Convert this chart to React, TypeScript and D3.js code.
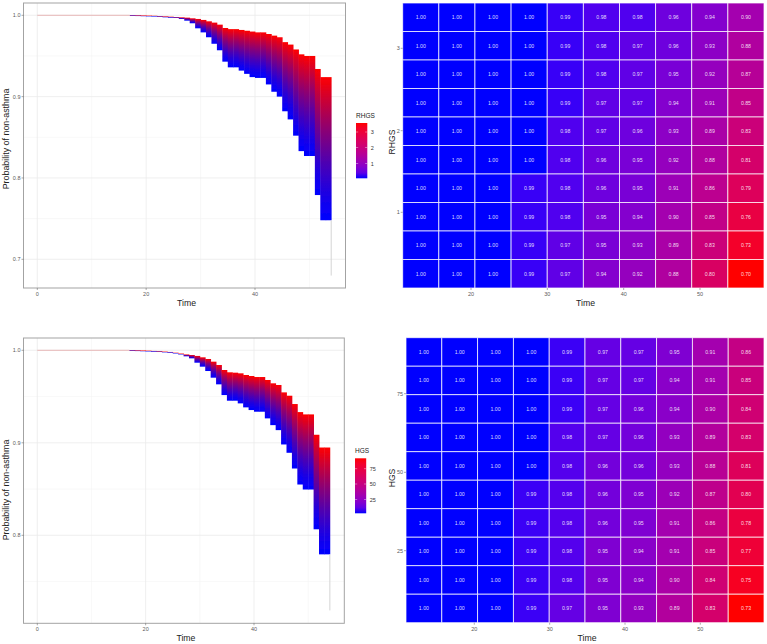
import React from "react";
import * as d3 from "d3";

const stepTimes = [17,18,19,20,21,22,23,24,25,26,27,28,29,30,31,32,33,34,35,36,37,38,39,40,41,42,43,44,45,46,47,48,49,50,51,52,53];
const rhgsUpper = [1,.9998,.9996,.9994,.9992,.999,.9987,.9983,.9978,.9975,.9971,.9963,.9955,.9943,.9926,.991,.9885,.9844,.983,.983,.982,.981,.98,.979,.979,.977,.975,.973,.967,.964,.958,.952,.95,.95,.934,.924,.924];
const rhgsLower = [1,.9996,.9992,.999,.9985,.998,.9975,.997,.9967,.9955,.9934,.9902,.984,.979,.973,.965,.957,.943,.936,.936,.932,.928,.924,.923,.923,.915,.906,.9,.882,.872,.852,.833,.827,.827,.779,.748,.748];
const hgsUpper = [1,.9998,.9996,.9994,.9991,.9988,.9984,.998,.9972,.9965,.9955,.9949,.9939,.9924,.9906,.9877,.9841,.9787,.9762,.9758,.9751,.9733,.9722,.9711,.9711,.9679,.9643,.9625,.9545,.9509,.9419,.9332,.9307,.9307,.9087,.8949,.8949];
const hgsLower = [1,.9996,.9993,.999,.9986,.9982,.9978,.9972,.9965,.9955,.9935,.9913,.9866,.9823,.9776,.9704,.9632,.9516,.9455,.9455,.9426,.9383,.9354,.9336,.9336,.9264,.9191,.9137,.8982,.8892,.8722,.8549,.8495,.8495,.8065,.7794,.7794];
const rhgsTail = [0.748, 0.68];
const hgsTail = [0.7794, 0.7188];

const heatColumns = ["c1","c2","c3","c4","c5","c6","c7","c8","c9","c10"];
const heatRows = ["r1","r2","r3","r4","r5","r6","r7","r8","r9","r10"];
const rhgsHeat = [
  [1,1,1,1,.99,.98,.98,.96,.94,.90],
  [1,1,1,1,.99,.98,.97,.96,.93,.88],
  [1,1,1,1,.99,.98,.97,.95,.92,.87],
  [1,1,1,1,.99,.97,.97,.94,.91,.85],
  [1,1,1,1,.98,.97,.96,.93,.89,.83],
  [1,1,1,1,.98,.96,.95,.92,.88,.81],
  [1,1,1,.99,.98,.96,.95,.91,.86,.79],
  [1,1,1,.99,.98,.95,.94,.90,.85,.76],
  [1,1,1,.99,.97,.95,.93,.89,.83,.73],
  [1,1,1,.99,.97,.94,.92,.88,.80,.70],
];
const hgsHeat = [
  [1,1,1,1,.99,.97,.97,.95,.91,.86],
  [1,1,1,1,.99,.97,.97,.94,.91,.85],
  [1,1,1,1,.99,.97,.96,.94,.90,.84],
  [1,1,1,1,.98,.97,.96,.93,.89,.83],
  [1,1,1,1,.98,.96,.96,.93,.88,.81],
  [1,1,1,.99,.98,.96,.95,.92,.87,.80],
  [1,1,1,.99,.98,.96,.95,.91,.86,.78],
  [1,1,1,.99,.98,.95,.94,.91,.85,.77],
  [1,1,1,.99,.98,.95,.94,.90,.84,.75],
  [1,1,1,.99,.97,.95,.93,.89,.83,.73],
];

const FONT = "'Liberation Sans', Arial, sans-serif";
const lab = d3.interpolateLab("#0000ff", "#ff0000");
const rgb = d3.interpolateRgb("#0000ff", "#ff0000");
const stops = d3.range(0, 1.0001, 0.1);

type SP = {
  box: [number, number, number, number];
  x0: number; x40: number; yTop: number; yBot: number; valBot: number;
  yMajor: number[]; yMinor: number[];
  upper: number[]; lower: number[]; tail: number[];
  legendTitle: string; legendBox: [number, number, number, number];
  legendTicks: { label: string; y: number }[];
  timeY: number; ylabX: number; ylabY: number;
};

function Survival(p: SP) {
  const [l, t, r, b] = p.box;
  const x = d3.scaleLinear().domain([0, 40]).range([p.x0, p.x40]);
  const y = d3.scaleLinear().domain([1, p.valBot]).range([p.yTop, p.yBot]);
  const [lx, ly, lw, lh] = p.legendBox;
  return (
    <g fontFamily={FONT}>
      {[10, 30, 50].map((v) => <line key={v} x1={x(v)} x2={x(v)} y1={t} y2={b} stroke="#f3f3f3" strokeWidth={0.6} />)}
      {p.yMinor.map((v) => <line key={v} x1={l} x2={r} y1={y(v)} y2={y(v)} stroke="#f3f3f3" strokeWidth={0.6} />)}
      {[0, 20, 40].map((v) => <line key={v} x1={x(v)} x2={x(v)} y1={t} y2={b} stroke="#ebebeb" strokeWidth={0.8} />)}
      {p.yMajor.map((v) => <line key={v} x1={l} x2={r} y1={y(v)} y2={y(v)} stroke="#ebebeb" strokeWidth={0.8} />)}
      <line x1={x(0)} x2={x(17)} y1={y(1)} y2={y(1)} stroke="#e6a9a9" strokeWidth={0.8} />
      <g filter="url(#soft)">
        {stepTimes.map((s, i) => {
          const top = y(p.upper[i]);
          const h = Math.max(y(p.lower[i]) - top, 0.8);
          return <rect key={s} x={x(s)} width={x(s + 1) - x(s) + 0.4} y={top - (h === 0.8 ? 0.2 : 0)} height={h} fill="url(#ribbon)" />;
        })}
      </g>
      <line x1={x(54)} x2={x(54)} y1={y(p.tail[0])} y2={y(p.tail[1])} stroke="#d4d4d4" strokeWidth={1} />
      <rect x={l} y={t} width={r - l} height={b - t} fill="none" stroke="#a3a3a3" strokeWidth={1} />
      {[0, 20, 40].map((v) => (
        <g key={v}>
          <line x1={x(v)} x2={x(v)} y1={b} y2={b + 2} stroke="#555" strokeWidth={0.5} />
          <text x={x(v)} y={b + 7.5} textAnchor="middle" fontSize={5.5} fill="#5a5a5a">{v}</text>
        </g>
      ))}
      {p.yMajor.map((v) => (
        <g key={v}>
          <line x1={l - 2} x2={l} y1={y(v)} y2={y(v)} stroke="#555" strokeWidth={0.5} />
          <text x={l - 3} y={y(v) + 2} textAnchor="end" fontSize={5.5} fill="#5a5a5a">{v.toFixed(1)}</text>
        </g>
      ))}
      <text x={(l + r) / 2 + 2} y={p.timeY} textAnchor="middle" fontSize={8.7} fill="#222">Time</text>
      <text transform={`translate(${p.ylabX},${p.ylabY}) rotate(-90)`} textAnchor="middle" fontSize={8.9} fill="#222">Probability of non-asthma</text>
      <text x={lx} y={ly - 5} fontSize={6.5} fill="#222">{p.legendTitle}</text>
      <rect x={lx} y={ly} width={lw} height={lh} fill="url(#legend)" />
      {p.legendTicks.map((k) => (
        <g key={k.label}>
          <line x1={lx} x2={lx + 2.2} y1={k.y} y2={k.y} stroke="#fff" strokeWidth={0.4} />
          <line x1={lx + lw - 2.2} x2={lx + lw} y1={k.y} y2={k.y} stroke="#fff" strokeWidth={0.4} />
          <text x={lx + lw + 3.5} y={k.y + 2} fontSize={5.5} fill="#333">{k.label}</text>
        </g>
      ))}
    </g>
  );
}

type HP = {
  box: [number, number, number, number];
  cells: number[][];
  xTicks: [number, number][];
  yTicks: { label: string; y: number }[];
  yTitle: string; timeX: number; timeY: number; ylabX: number; ylabY: number;
};

function Heat(p: HP) {
  const [l, t, r, b] = p.box;
  const bx = d3.scaleBand().domain(heatColumns).range([l, r]);
  const by = d3.scaleBand().domain(heatRows).range([t, b]);
  const flat = p.cells.flat();
  const col = d3.scaleLinear().domain([d3.min(flat) as number, 1]).range([1, 0]);
  return (
    <g fontFamily={FONT}>
      {heatRows.map((rw, i) => heatColumns.map((c, j) => {
        const v = p.cells[i][j];
        return (
          <g key={rw + c}>
            <rect x={bx(c)} y={by(rw)} width={bx.bandwidth()} height={by.bandwidth()} fill={lab(col(v))} stroke="#fff" strokeOpacity={0.8} strokeWidth={0.9} />
            <text x={(bx(c) as number) + bx.bandwidth() / 2} y={(by(rw) as number) + by.bandwidth() / 2 + 1.8} textAnchor="middle" fontSize={5.2} fill="#fff" fillOpacity={0.85}>{v.toFixed(2)}</text>
          </g>
        );
      }))}
      {p.xTicks.map(([v, px]) => (
        <g key={v}>
          <line x1={px} x2={px} y1={b} y2={b + 2} stroke="#555" strokeWidth={0.5} />
          <text x={px} y={b + 8} textAnchor="middle" fontSize={5.5} fill="#5a5a5a">{v}</text>
        </g>
      ))}
      {p.yTicks.map((k) => (
        <g key={k.label}>
          <line x1={l - 2} x2={l} y1={k.y} y2={k.y} stroke="#555" strokeWidth={0.5} />
          <text x={l - 3} y={k.y + 2} textAnchor="end" fontSize={5.5} fill="#5a5a5a">{k.label}</text>
        </g>
      ))}
      <text x={p.timeX} y={p.timeY} textAnchor="middle" fontSize={8.7} fill="#222">Time</text>
      <text transform={`translate(${p.ylabX},${p.ylabY}) rotate(-90)`} textAnchor="middle" fontSize={8.6} fill="#222">{p.yTitle}</text>
    </g>
  );
}

export default function App() {
  return (
    <svg width={767} height={644} viewBox="0 0 767 644" style={{ position: "absolute", left: 0, top: 0, background: "#fff" }}>
      <defs>
        <linearGradient id="legend" x1="0" y1="0" x2="0" y2="1">
          {stops.map((s) => <stop key={s} offset={`${s * 100}%`} stopColor={lab(1 - s)} />)}
        </linearGradient>
        <linearGradient id="ribbon" x1="0" y1="0" x2="0" y2="1">
          {stops.map((s) => <stop key={s} offset={`${s * 100}%`} stopColor={rgb(Math.pow(1 - s, 1.3))} />)}
        </linearGradient>
        <filter id="soft" x="-5%" y="-5%" width="110%" height="110%">
          <feGaussianBlur stdDeviation="0.45 0.25" />
        </filter>
      </defs>
      <Survival box={[23.5, 3, 345.5, 288]} x0={37.3} x40={255} yTop={15.3} yBot={259.3} valBot={0.7}
        yMajor={[1, .9, .8, .7]} yMinor={[.95, .85, .75]} upper={rhgsUpper} lower={rhgsLower} tail={rhgsTail}
        legendTitle="RHGS" legendBox={[356, 123, 11.3, 55.3]}
        legendTicks={[{ label: "3", y: 132 }, { label: "2", y: 147.5 }, { label: "1", y: 163.5 }]}
        timeY={306} ylabX={9} ylabY={139} />
      <Heat box={[402.7, 3, 764, 288]} cells={rhgsHeat}
        xTicks={[[20, 471], [30, 547.3], [40, 623.7], [50, 700]]}
        yTicks={[{ label: "3", y: 48.3 }, { label: "2", y: 130.7 }, { label: "1", y: 212.3 }]}
        yTitle="RHGS" timeX={585.5} timeY={306} ylabX={395} ylabY={142} />
      <Survival box={[23.5, 338, 344.3, 623.3]} x0={37.3} x40={254} yTop={350.3} yBot={535.3} valBot={0.8}
        yMajor={[1, .9, .8]} yMinor={[.95, .85, .75]} upper={hgsUpper} lower={hgsLower} tail={hgsTail}
        legendTitle="HGS" legendBox={[355, 458.3, 11.2, 55]}
        legendTicks={[{ label: "75", y: 468.7 }, { label: "50", y: 484 }, { label: "25", y: 499.5 }]}
        timeY={641} ylabX={9} ylabY={490} />
      <Heat box={[406, 337.7, 764, 622.7]} cells={hgsHeat}
        xTicks={[[20, 474.3], [30, 549.7], [40, 625], [50, 700.3]]}
        yTicks={[{ label: "75", y: 393.7 }, { label: "50", y: 472.3 }, { label: "25", y: 550.7 }]}
        yTitle="HGS" timeX={587} timeY={641} ylabX={395} ylabY={478} />
    </svg>
  );
}
